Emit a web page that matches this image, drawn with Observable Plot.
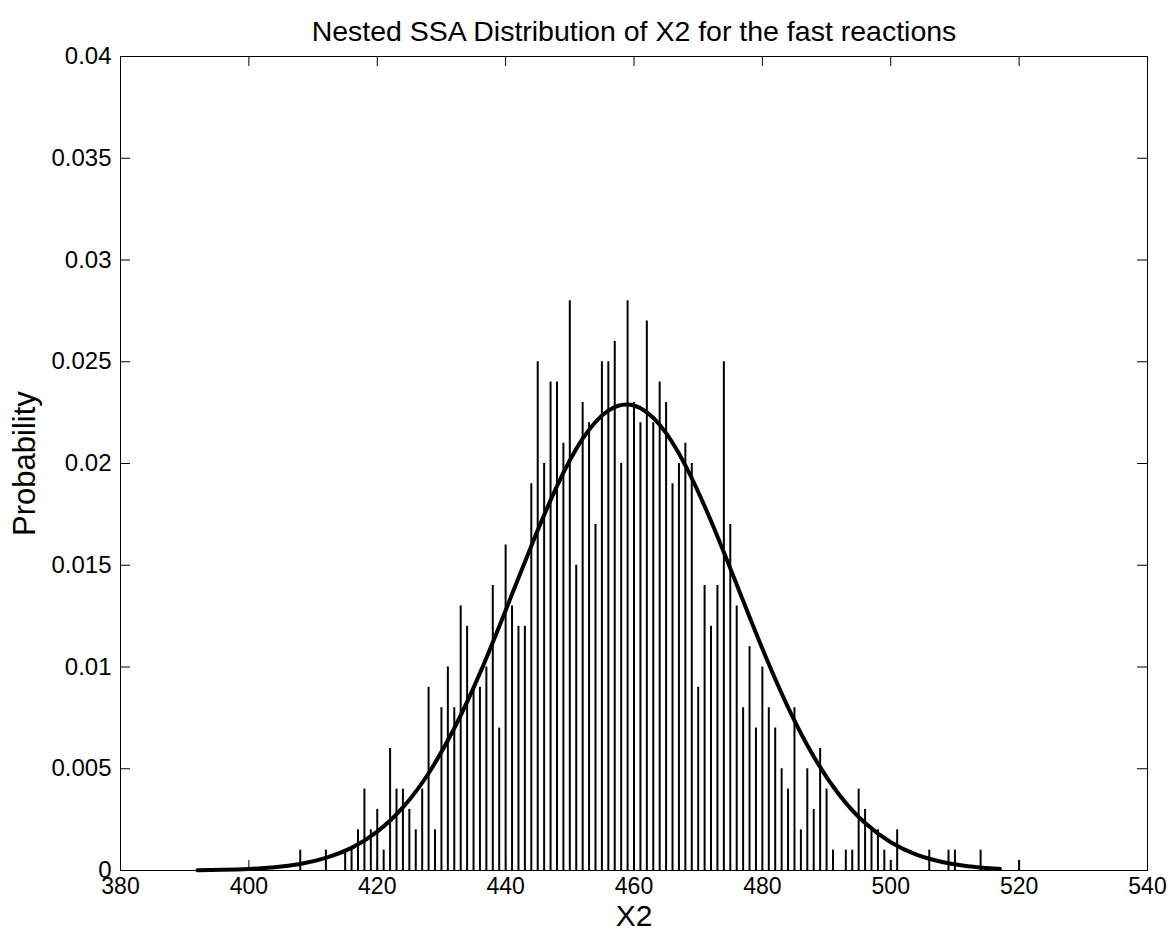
<!DOCTYPE html>
<html><head><meta charset="utf-8">
<script src="https://cdn.jsdelivr.net/npm/d3@7"></script>
<script src="https://cdn.jsdelivr.net/npm/@observablehq/plot@0.6"></script>
<style>body{margin:0;background:#fff;} svg{font-family:"Liberation Sans",Arial,sans-serif;}</style>
</head><body><div id="chart"></div>
<script>
const xValues = [408,412,415,416,417,418,419,420,421,422,423,424,425,426,427,428,429,430,431,432,433,434,435,436,437,438,439,440,441,442,443,444,445,446,447,448,449,450,451,452,453,454,455,456,457,458,459,460,461,462,463,464,465,466,467,468,469,470,471,472,473,474,475,476,477,478,479,480,481,482,483,484,485,486,487,488,489,490,491,493,494,495,496,497,498,499,500,501,506,509,510,514,520];
const probValues = [0.001,0.001,0.001,0.001,0.002,0.004,0.002,0.003,0.001,0.006,0.004,0.004,0.003,0.002,0.004,0.009,0.002,0.008,0.010,0.008,0.013,0.012,0.009,0.009,0.010,0.014,0.007,0.016,0.013,0.012,0.012,0.019,0.025,0.020,0.024,0.024,0.021,0.028,0.015,0.023,0.022,0.017,0.025,0.025,0.026,0.020,0.028,0.023,0.022,0.027,0.022,0.024,0.023,0.019,0.020,0.021,0.020,0.009,0.014,0.012,0.014,0.025,0.017,0.013,0.008,0.011,0.007,0.010,0.008,0.007,0.005,0.004,0.008,0.002,0.005,0.003,0.006,0.004,0.001,0.001,0.001,0.004,0.003,0.002,0.002,0.001,0.0005,0.002,0.001,0.001,0.001,0.001,0.0005];
const fitX = [392,396,400,404,408,412,416,420,424,428,432,436,440,444,448,452,456,460,464,468,472,476,480,484,488,492,496,500,504,508,512,516,517];
const fitY = [0.000014,0.000034,0.000076,0.00016,0.00032,0.00062,0.00111,0.00191,0.0031,0.00478,0.00699,0.0097,0.01278,0.01595,0.01889,0.02122,0.0226,0.02285,0.0219,0.01991,0.01717,0.01405,0.0109,0.00802,0.0056,0.00371,0.00233,0.00139,0.00078,0.00042,0.00021,0.0001,0.000085];
const xTicks = [380,400,420,440,460,480,500,520,540];
const yTicks = [0,0.005,0.01,0.015,0.02,0.025,0.03,0.035,0.04];
const yTickLabels = ["0","0.005","0.01","0.015","0.02","0.025","0.03","0.035","0.04"];
const titleText = "Nested SSA Distribution of X2 for the fast reactions";
const xLabel = "X2";
const yLabel = "Probability";

const bars = xValues.map((x, i) => ({x, p: probValues[i]}));
const fit = fitX.map((x, i) => ({x, p: fitY[i]}));
const W = 1175, H = 937, mt = 56, mb = 67, ml = 120, mr = 28;
const ph = H - mt - mb, pw = W - ml - mr, tk = 10;
const font = "Liberation Sans, Arial, sans-serif";

const chart = Plot.plot({
  width: W, height: H, marginTop: mt, marginBottom: mb, marginLeft: ml, marginRight: mr,
  style: {fontSize: "24px", fontFamily: font, color: "black", background: "white"},
  x: {domain: [380, 540]},
  y: {domain: [0, 0.04]},
  marks: [
    Plot.ruleX(bars, {x: "x", y: "p", stroke: "black", strokeWidth: 2}),
    Plot.line(fit, {x: "x", y: "p", stroke: "black", strokeWidth: 4, curve: "natural"}),
    Plot.frame({stroke: "black", strokeWidth: 1}),
    Plot.ruleX(xTicks, {insetTop: ph - tk, stroke: "black"}),
    Plot.ruleX(xTicks, {insetBottom: ph - tk, stroke: "black"}),
    Plot.ruleY(yTicks, {insetRight: pw - tk, stroke: "black"}),
    Plot.ruleY(yTicks, {insetLeft: pw - tk, stroke: "black"}),
    Plot.axisX(xTicks, {tickSize: 0, tickPadding: 7, label: null, fontSize: 23}),
    Plot.axisY(yTicks, {tickSize: 0, tickPadding: 9, label: null, fontSize: 24,
      tickFormat: d => yTickLabels[yTicks.indexOf(d)]}),
    Plot.text([xLabel], {frameAnchor: "bottom", lineAnchor: "middle", dy: 46, fontSize: 30}),
    Plot.text([yLabel], {frameAnchor: "left", textAnchor: "middle", lineAnchor: "middle", dx: -95, rotate: -90, fontSize: 31}),
    Plot.text([titleText], {frameAnchor: "top", lineAnchor: "middle", dy: -25, fontSize: 28.5})
  ]
});
document.getElementById("chart").appendChild(chart);
</script>
</body></html>
